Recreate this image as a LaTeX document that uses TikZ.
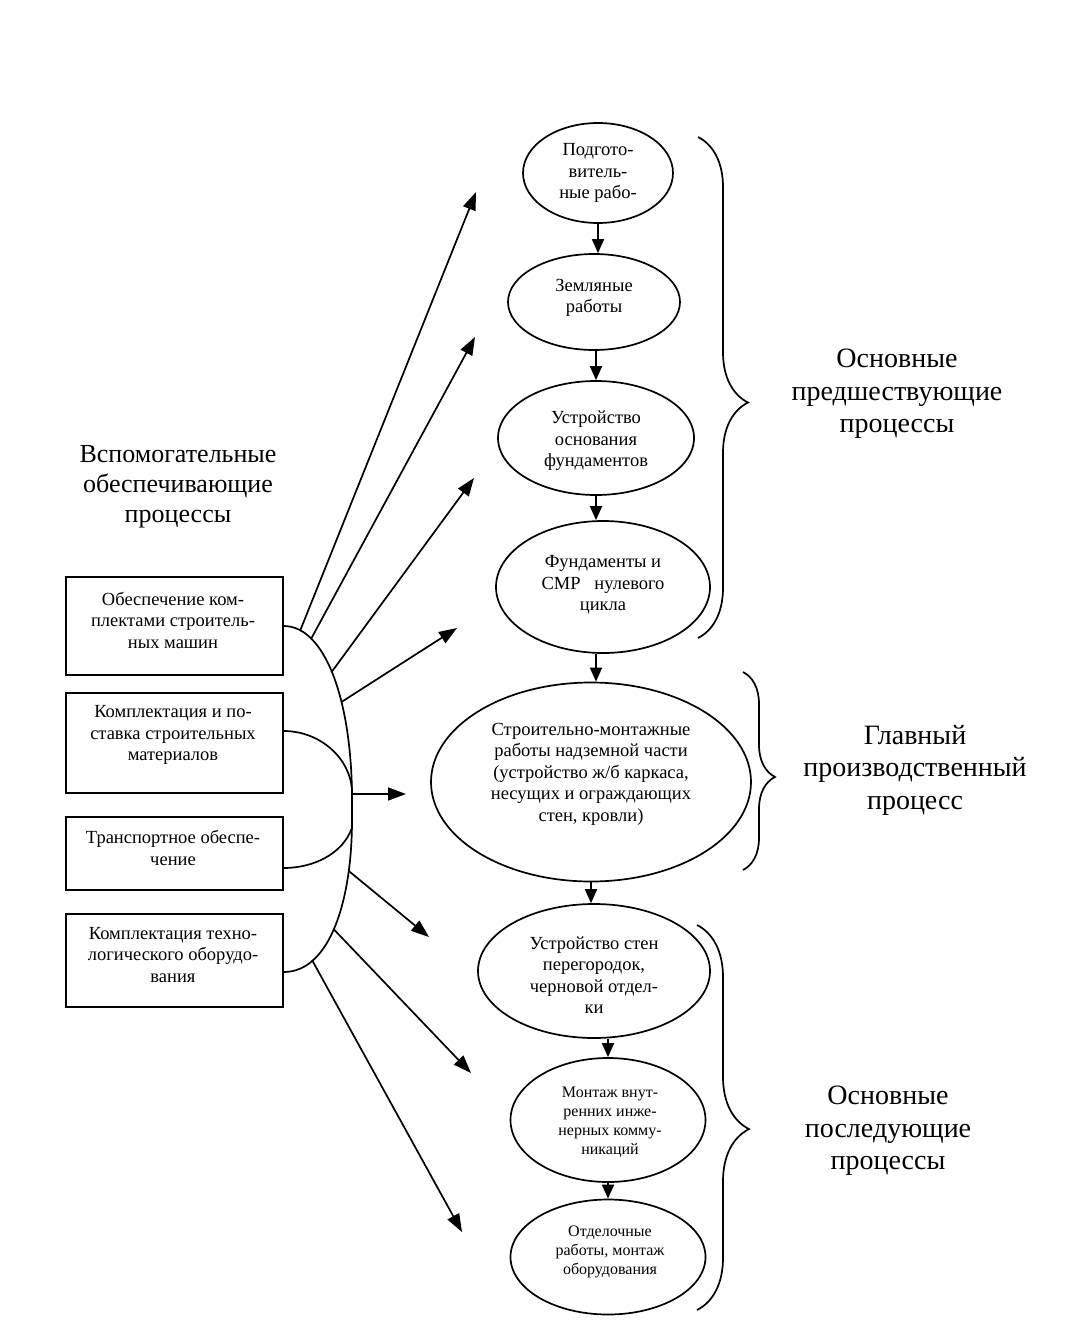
\documentclass[tikz,border=0pt]{standalone}
\usepackage{fontspec}
\setmainfont{Liberation Serif}
\usetikzlibrary{arrows.meta,shapes.geometric,decorations.pathreplacing}
\begin{document}
\begin{tikzpicture}[x=1pt,y=-1pt,line width=1.7pt,
  ell/.style={draw,ellipse,inner sep=0pt},
  boxn/.style={draw,rectangle,inner sep=0pt,anchor=north west,minimum width=217pt},
  txt/.style={align=center,inner sep=0pt,font=\fontsize{18.5}{21.5}\selectfont},
  stxt/.style={align=center,inner sep=0pt,font=\fontsize{16}{19}\selectfont},
  bigt/.style={align=center,inner sep=0pt,font=\fontsize{28}{32.5}\selectfont},
  lbig/.style={align=center,inner sep=0pt,font=\fontsize{26}{30}\selectfont},
  arr/.style={-{Triangle[length=18pt,width=13pt]}},
  varr/.style={-{Triangle[length=14pt,width=12pt]}},
  brc/.style={decorate,decoration={brace,amplitude=#1,aspect=0.53}}]
\useasboundingbox (0,0) rectangle (1066,1325);

% main chain ellipses
\node[ell,minimum width=150pt,minimum height=100pt] (e1) at (598,173) {};
\node[ell,minimum width=172pt,minimum height=96pt] (e2) at (594,302) {};
\node[ell,minimum width=196pt,minimum height=114pt] (e3) at (596,438) {};
\node[ell,minimum width=214pt,minimum height=132pt] (e4) at (603,587) {};
\node[ell,minimum width=320pt,minimum height=199pt] (e5) at (591,782) {};
\node[ell,minimum width=232pt,minimum height=134pt] (e6) at (594,971) {};
\node[ell,minimum width=195pt,minimum height=124pt] (e7) at (608,1120) {};
\node[ell,minimum width=195pt,minimum height=115pt] (e8) at (608,1257) {};

\node[txt] (t1) at (598,173) {Подгото-\\витель-\\ные рабо-};
\node[txt] (t2) at (594,298) {Земляные\\работы};
\node[txt] (t3) at (596,441) {Устройство\\основания\\фундаментов};
\node[txt] (t4) at (603,585) {Фундаменты и\\СМР\ \ \ нулевого\\цикла};
\node[txt] (t5) at (591,774) {Строительно-монтажные\\работы надземной части\\(устройство ж/б каркаса,\\несущих и ограждающих\\стен, кровли)};
\node[txt] (t6) at (594,975) {Устройство стен\\перегородок,\\черновой отдел-\\ки};
\node[stxt] (t7) at (610,1122) {Монтаж внут-\\ренних инже-\\нерных комму-\\никаций};
\node[stxt] (t8) at (610,1252) {Отделочные\\работы, монтаж\\оборудования};

\draw[varr] (e1.south) -- (e1.south |- e2.north);
\draw[varr] (e2.south -| e3.north) -- (e3.north);
\draw[varr] (e3.south) -- (e3.south |- e4.north);
\draw[varr] (e4.south -| e3.south) -- (e3.south |- e5.north);
\draw[varr] (e5.south) -- (e5.south |- e6.north);
\draw[varr] (e6.south -| e7.north) -- (e7.north);
\draw[varr] (e7.south) -- (e8.north);

% left boxes
\node[boxn,minimum height=98pt] (b1) at (65,576) {};
\node[boxn,minimum height=100pt] (b2) at (65,692) {};
\node[boxn,minimum height=73pt] (b3) at (65,816) {};
\node[boxn,minimum height=93pt] (b4) at (65,913) {};
\node[txt] (bt1) at (173,620) {Обеспечение ком-\\плектами строитель-\\ных машин};
\node[txt] (bt2) at (173,735) {Комплектация и по-\\ставка строительных\\материалов};
\node[txt] (bt3) at (173,848) {Транспортное обеспе-\\чение};
\node[txt] (bt4) at (173,955) {Комплектация техно-\\логического оборудо-\\вания};

% collecting arcs
\draw (b1.east |- 0,626) .. controls (325,626) and (352,700) .. (352,800)
  -- (352,820) .. controls (352,900) and (330,972) .. (b4.east |- 0,972);
\draw (b2.east |- 0,731) .. controls (320,731) and (350,758) .. (352,790);
\draw (352,828) .. controls (342,855) and (312,868) .. (b3.east |- 0,868);

% start points on arc
\coordinate (s1) at (300,631);
\coordinate (s2) at (311,639);
\coordinate (s3) at (331.6,672);
\coordinate (s4) at (341.4,702);
\coordinate (s5) at (352,794);
\coordinate (s6) at (348.8,871);
\coordinate (s7) at (333.5,929);
\coordinate (s8) at (312,960);
% arrow ends
\coordinate (p1) at (476,192);
\coordinate (p2) at (475,337);
\coordinate (p3) at (474,478);
\coordinate (p4) at (457,628);
\coordinate (p5) at (406,794);
\coordinate (p6) at (429,937);
\coordinate (p7) at (471,1073);
\coordinate (p8) at (462,1232);
\foreach \i in {1,...,8} {\draw[arr] (s\i) -- (p\i);}

% braces
\draw[brc=50pt] (698,137) -- (698,638);
\draw[brc=32pt] (743,672) -- (743,870);
\draw[brc=52pt] (697,925) -- (697,1310);

% labels
\node[lbig] (l1) at (178,487) {Вспомогательные\\обеспечивающие\\процессы};
\node[bigt] (l2) at (897,394) {Основные\\предшествующие\\процессы};
\node[bigt] (l3) at (915,770) {Главный\\производственный\\процесс};
\node[bigt] (l4) at (888,1131) {Основные\\последующие\\процессы};
\end{tikzpicture}
\end{document}
